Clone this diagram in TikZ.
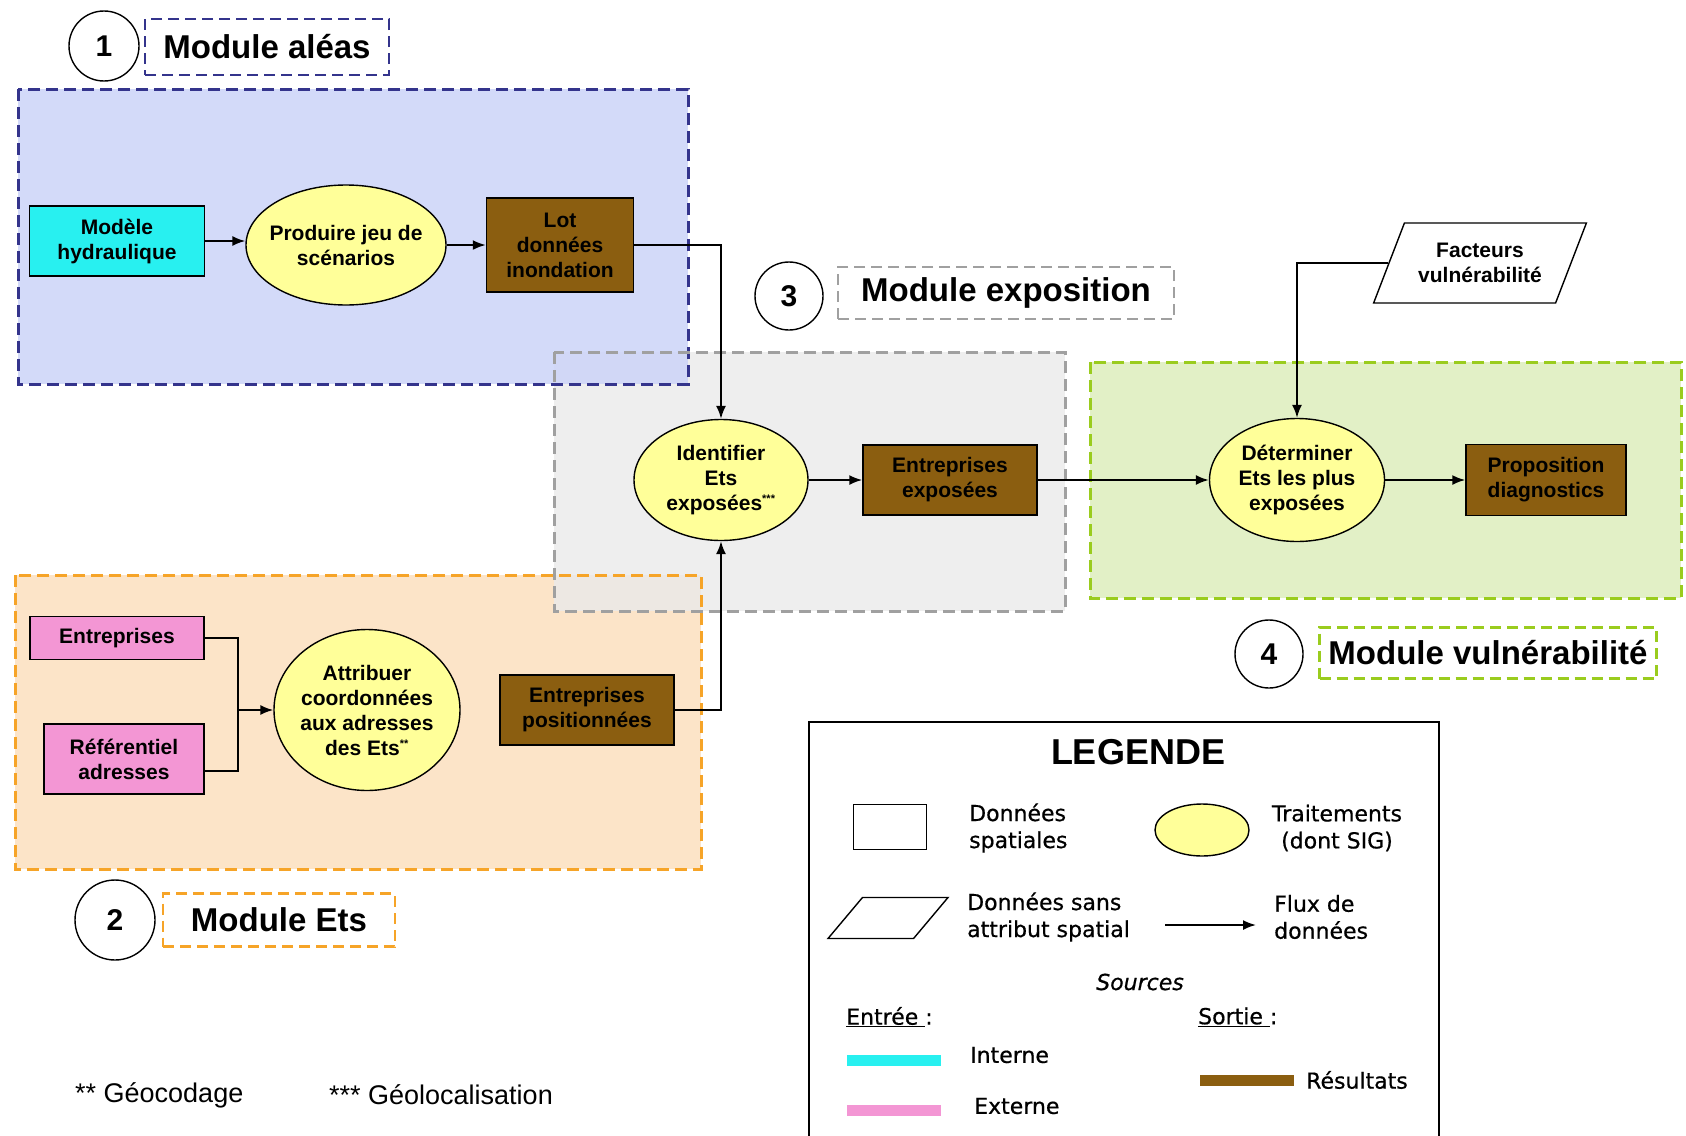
\documentclass[tikz,border=0pt]{standalone}
\usepackage{fontspec}
\setmainfont{Liberation Sans}
\newfontfamily\legfont[FakeBold=0.6]{DejaVu Sans}
\usetikzlibrary{shapes.geometric,arrows.meta,calc}

\definecolor{bluefill}{RGB}{204,212,248}
\definecolor{blueborder}{RGB}{52,52,140}
\definecolor{grayfill}{RGB}{234,234,234}
\definecolor{grayborder}{RGB}{160,160,160}
\definecolor{orangefill}{RGB}{252,228,200}
\definecolor{orangeborder}{RGB}{246,164,40}
\definecolor{greenfill}{RGB}{226,240,198}
\definecolor{greenborder}{RGB}{154,204,30}
\definecolor{cyanbox}{RGB}{40,240,240}
\definecolor{pinkbox}{RGB}{243,150,212}
\definecolor{brownbox}{RGB}{139,94,16}
\definecolor{procyellow}{RGB}{255,255,153}

\begin{document}
\begin{tikzpicture}[x=1pt,y=-1pt,
  region/.style={line width=3pt, dash pattern=on 12pt off 6pt},
  titlebox/.style={line width=2.6pt, dash pattern=on 11pt off 6pt, align=center,
    font=\fontsize{33}{38}\selectfont\bfseries, inner sep=0pt},
  numcirc/.style={circle, draw=black, line width=1.4pt, fill=white,
    font=\fontsize{30}{34}\selectfont\bfseries, inner sep=0pt},
  databox/.style={draw=black, line width=1.5pt, align=center,
    font=\fontsize{21}{25}\selectfont\bfseries, inner sep=2pt},
  proc/.style={ellipse, draw=black, line width=1.4pt, fill=procyellow, align=center,
    font=\fontsize{21}{25}\selectfont\bfseries, inner sep=-10pt},
  para/.style={trapezium, trapezium stretches=true, draw=black, line width=1.4pt,
    fill=white, align=center, inner xsep=0pt, inner ysep=2pt,
    font=\fontsize{21}{25}\selectfont\bfseries},
  flow/.style={line width=1.8pt, -{Latex[length=13pt,width=10pt]}},
  wire/.style={line width=1.8pt},
  legtext/.style={font=\legfont\fontsize{22}{27}\selectfont, align=left, inner sep=0pt},
  legbar/.style={line width=11pt},
]
\useasboundingbox (0,0) rectangle (1686,1135);
\fill[white] (0,0) rectangle (1686,1135);

% ---------- module regions ----------
\fill[orangefill] (15,575) rectangle (701,869);
\fill[grayfill, fill opacity=0.8] (554,352) rectangle (1065,611);
\fill[bluefill, fill opacity=0.85] (18,89) rectangle (688,384);
\fill[greenfill] (1090,362) rectangle (1681,598);
\draw[region, draw=blueborder] (18,89) rectangle (688,384);
\draw[region, draw=grayborder] (554,352) rectangle (1065,611);
\draw[region, draw=orangeborder] (15,575) rectangle (701,869);
\draw[region, draw=greenborder] (1090,362) rectangle (1681,598);

% ---------- module titles ----------
\node[numcirc, minimum size=70pt] (c1) at (104,46) {1};
\node[titlebox, draw=blueborder, minimum width=244pt, minimum height=56pt] (t1) at (267,47) {Module aléas};
\node[numcirc, minimum size=68pt] (c3) at (789,296) {3};
\node[titlebox, draw=grayborder, minimum width=336pt, minimum height=52pt] (t3) at (1006,293) {Module exposition};
\node[numcirc, minimum size=68pt] (c4) at (1269,654) {4};
\node[titlebox, draw=greenborder, minimum width=337pt, minimum height=51pt] (t4) at (1488,653) {Module vulnérabilité};
\node[numcirc, minimum size=80pt] (c2) at (115,920) {2};
\node[titlebox, draw=orangeborder, minimum width=232pt, minimum height=53pt] (t2) at (279,920) {Module Ets};

% ---------- module 1 ----------
\node[databox, fill=cyanbox, minimum width=175pt, minimum height=70pt] (hydro) at (117,241) {Modèle\\hydraulique};
\node[proc, minimum width=200pt, minimum height=120pt] (prod) at (346,245) {Produire jeu de\\scénarios};
\node[databox, fill=brownbox, minimum width=147pt, minimum height=94pt] (lot) at (560,245) {Lot\\données\\inondation};

% ---------- module 3 ----------
\node[proc, minimum width=174pt, minimum height=121pt] (ident) at (721,480) {Identifier\\Ets\\exposées\textsuperscript{\fontsize{11}{11}\selectfont***}};
\node[databox, fill=brownbox, minimum width=174pt, minimum height=70pt] (expo) at (950,480) {Entreprises\\exposées};

% ---------- module 4 ----------
\node[proc, minimum width=175pt, minimum height=123pt] (determ) at (1297,480) {Déterminer\\Ets les plus\\exposées};
\node[databox, fill=brownbox, minimum width=160pt, minimum height=71pt] (prop) at (1546,480) {Proposition\\diagnostics};
\node[para, trapezium left angle=60, trapezium right angle=120, minimum width=213pt, minimum height=80pt] (fact) at (1480,263) {Facteurs\\vulnérabilité};

% ---------- module 2 ----------
\node[databox, fill=pinkbox, minimum width=174pt, minimum height=43pt] (entr) at (117,638) {Entreprises};
\node[databox, fill=pinkbox, minimum width=160pt, minimum height=70pt] (refer) at (124,759) {Référentiel\\adresses};
\node[proc, minimum width=186pt, minimum height=161pt] (attrib) at (367,710) {Attribuer\\coordonnées\\aux adresses\\des Ets\textsuperscript{\fontsize{11}{11}\selectfont**}};
\node[databox, fill=brownbox, minimum width=174pt, minimum height=70pt] (posit) at (587,710) {Entreprises\\positionnées};
\coordinate (jn) at (238,710);

% ---------- connectors ----------
\draw[flow] (hydro.east) -- (hydro.east -| prod.west);
\draw[flow] (prod.east) -- (lot.west);
\draw[flow] (lot.east) -| (ident.north);
\draw[flow] (ident.east) -- (expo.west);
\draw[flow] (expo.east) -- (determ.west);
\draw[flow] (determ.east) -- (prop.west);
\draw[flow] (fact.left side) -| (determ.north);
\draw[wire] (entr.east) -| (jn);
\draw[wire] ([yshift=-12pt]refer.east) -| (jn);
\draw[flow] (jn) -- (attrib.west);
\draw[flow] (posit.east) -| (ident.south);

% ---------- legend ----------
\draw[line width=1.4pt] (809,1140) -- (809,722) -- (1439,722) -- (1439,1140);
\node[font=\fontsize{36}{40}\selectfont\bfseries, inner sep=0pt] (legtitle) at (1138,752) {LEGENDE};
\node[draw=black, line width=1.4pt, fill=white, minimum width=73pt, minimum height=45pt, inner sep=0pt] (lrect) at (890,827) {};
\node[legtext, anchor=west] (lrecttxt) at (969,828) {Données\\spatiales};
\node[ellipse, draw=black, line width=1.4pt, fill=procyellow, minimum width=94pt, minimum height=52pt, inner sep=0pt] (lell) at (1202,830) {};
\node[legtext, align=center] (lelltxt) at (1337,828) {Traitements\\(dont SIG)};
\node[trapezium, trapezium stretches=true, trapezium left angle=56, trapezium right angle=124, draw=black, line width=1.4pt, minimum width=120pt, minimum height=41pt, inner sep=2pt] (lpara) at (888,918) {};
\node[legtext, anchor=west] (lparatxt) at (967,917) {Données sans\\attribut spatial};
\coordinate (larrA) at (1165,925);
\coordinate (larrB) at (1256,925);
\draw[flow] (larrA) -- (larrB);
\node[legtext, anchor=west] (larrtxt) at (1274,917) {Flux de\\données};
\node[legtext, font=\legfont\itshape\fontsize{22}{27}\selectfont] (lsrc) at (1140,982) {Sources};
\node[legtext, anchor=west] (lin) at (846,1017) {\underline{Entrée }:};
\node[legtext, anchor=west] (lout) at (1198,1017) {\underline{Sortie }:};
\coordinate (cyA) at (847,1060); \coordinate (cyB) at (941,1060);
\draw[legbar, draw=cyanbox] (cyA) -- (cyB);
\node[legtext, anchor=west] (lint) at (970,1055) {Interne};
\coordinate (pkA) at (847,1110); \coordinate (pkB) at (941,1110);
\draw[legbar, draw=pinkbox] (pkA) -- (pkB);
\node[legtext, anchor=west] (lext) at (974,1106) {Externe};
\coordinate (brA) at (1200,1080); \coordinate (brB) at (1294,1080);
\draw[legbar, draw=brownbox] (brA) -- (brB);
\node[legtext, anchor=west] (lres) at (1306,1080) {Résultats};

% ---------- footnotes ----------
\node[anchor=west, inner sep=0pt, font=\fontsize{27}{30}\selectfont] (fn1) at (75,1095) {** Géocodage};
\node[anchor=west, inner sep=0pt, font=\fontsize{27}{30}\selectfont] (fn2) at (329,1095) {*** Géolocalisation};
\end{tikzpicture}
\end{document}
